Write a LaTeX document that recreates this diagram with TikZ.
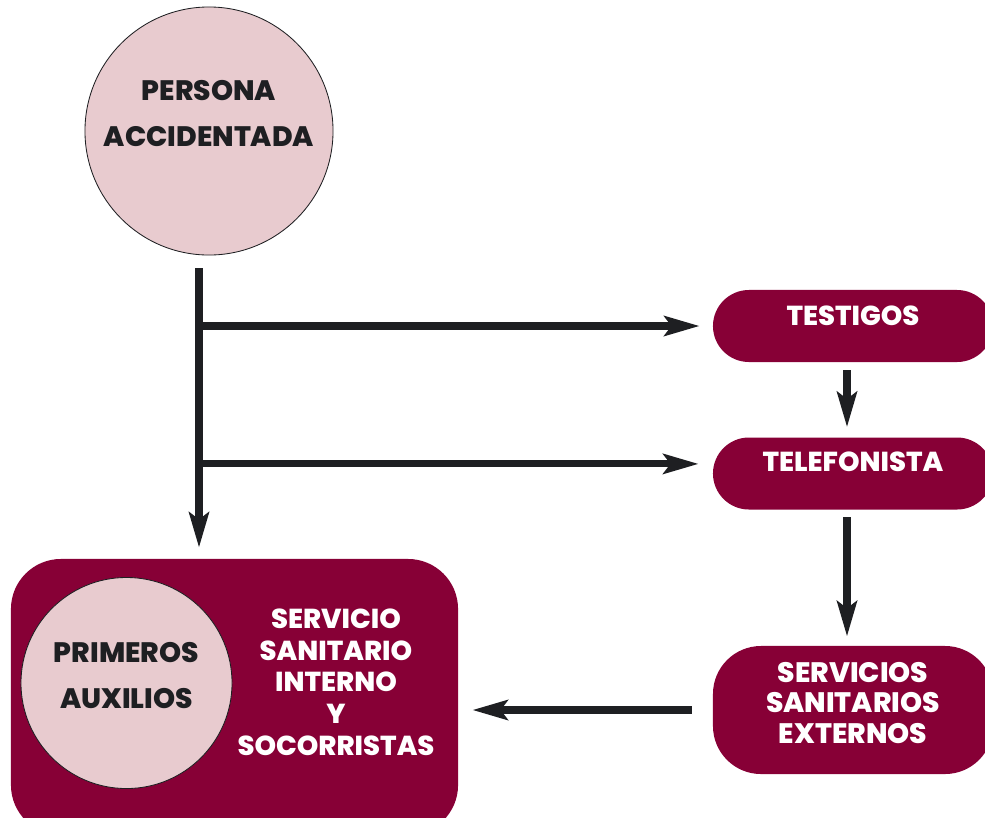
\documentclass[tikz,border=0pt]{standalone}
\usepackage{fontspec}
\setmainfont{Poppins}[BoldFont={Poppins ExtraBold}]
\usepackage{tikz}
\usetikzlibrary{positioning,arrows.meta}
\usepackage{xcolor}
\definecolor{vino}{HTML}{870036}
\definecolor{rosa}{HTML}{E8CBCF}
\definecolor{tinta}{HTML}{1E1F22}

\begin{document}
\begin{tikzpicture}[x=0.025cm, y=-0.025cm,
  rosacirc/.style={circle, draw=tinta, line width=0.6pt, fill=rosa, inner sep=0pt},
  pill/.style={rectangle, fill=vino, rounded corners=0.9cm, minimum width=7cm, minimum height=1.8cm},
  negro/.style={align=center, text=tinta, font=\bfseries\fontsize{20}{33}\selectfont},
  blanco/.style={align=center, text=white, font=\bfseries\fontsize{19.5}{22.5}\selectfont},
  arr/.style={line width=5pt, draw=tinta, -{Stealth[length=25pt, width=14pt, inset=5pt]}},
  >=stealth]
\useasboundingbox (0,0) rectangle (985,817);
% circulo superior
\node[rosacirc, minimum size=6.2cm] (persona) at (209,131) {};
\node[negro] (personatxt) at ([yshift=0.44cm]persona.center) {PERSONA\\ACCIDENTADA};
% cajas de la derecha
\node[pill] (testigos) at (853,326) {};
\node[blanco] (testigostxt) at ([yshift=0.25cm]testigos.center) {TESTIGOS};
\node[pill] (tele) at (853,473.5) {};
\node[blanco] (teletxt) at ([yshift=0.29cm]tele.center) {TELEFONISTA};
\node[pill, minimum height=3.2cm, rounded corners=1.2cm] (sse) at (853,710) {};
\node[blanco, font=\bfseries\fontsize{20}{22}\selectfont] (ssetxt) at ([yshift=0.175cm]sse.center)
  {SERVICIOS\\SANITARIOS\\EXTERNOS};
% caja grande
\node[rectangle, fill=vino, rounded corners=1.25cm, minimum width=11.175cm, minimum height=6.9cm] (interno) at (234.5,697) {};
\node[rosacirc, minimum size=5.275cm] (primeros) at (126.5,683) {};
\node[negro, font=\bfseries\fontsize{20}{32.6}\selectfont] (primerostxt) at ([yshift=0.19cm]primeros.center) {PRIMEROS\\AUXILIOS};
\node[blanco] (internotxt) at (336,682) {SERVICIO\\SANITARIO\\INTERNO\\Y\\SOCORRISTAS};
% flechas
\coordinate (trunk) at (199,268);
\coordinate (telein) at ([yshift=0.24cm]tele.west);
\draw[arr, shorten >=0.275cm] (trunk) -- (trunk |- interno.north);
\draw[arr, shorten >=0.325cm] (trunk |- testigos.west) -- (testigos.west);
\draw[arr, shorten >=0.35cm] (trunk |- telein) -- (telein);
\draw[arr, shorten <=0.2cm, shorten >=0.25cm] ([xshift=-0.15cm]testigos.south) -- ([xshift=-0.15cm]tele.north);
\draw[arr, shorten <=0.18cm, shorten >=0.23cm] ([xshift=-0.15cm]tele.south) -- ([xshift=-0.15cm]sse.north);
\draw[arr, shorten <=0.525cm, shorten >=0.35cm] (sse.west) -- (sse.west -| interno.east);
\end{tikzpicture}
\end{document}
